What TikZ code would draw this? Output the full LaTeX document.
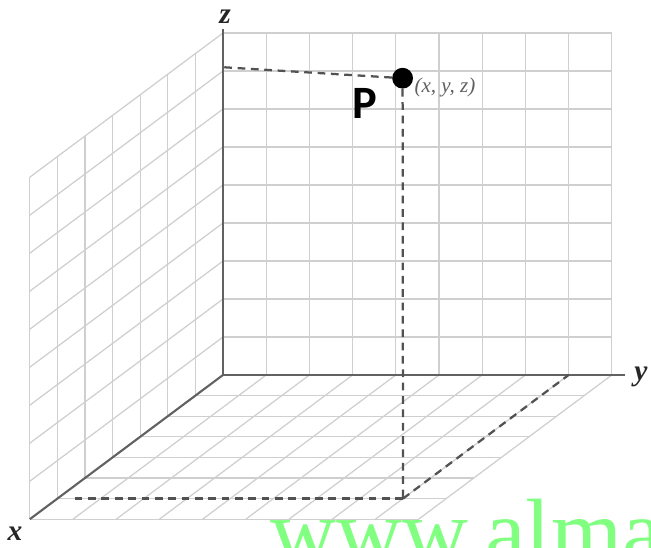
\documentclass[tikz,border=0pt]{standalone}
\usepackage{fontspec}
\setmainfont{Liberation Serif}
\newfontfamily\pointfont{Carlito}
\usetikzlibrary{positioning}
\definecolor{markgreen}{RGB}{128,255,128}

\begin{document}
\begin{tikzpicture}[
    x={(-0.69cm,-0.515cm)}, y={(1.08cm,0cm)}, z={(0cm,0.95cm)},
    every node/.style={inner sep=0pt},
    gridline/.style={line width=0.9pt, draw=black!19},
    axisline/.style={line width=1.5pt, draw=black!62},
    guide/.style={line width=1.6pt, draw=black!68, dash pattern=on 5.5pt off 4pt},
    axislabel/.style={font=\bfseries\itshape\fontsize{21}{21}\selectfont, text=black!85},
    pointdot/.style={circle, fill=black, minimum size=0.52cm}
]
    \useasboundingbox (-5.575cm,-4.3cm) rectangle (10.7cm,9.375cm);
    \clip (-5.575cm,-4.3cm) rectangle (10.7cm,9.375cm);

    % Back wall (yz plane)
    \foreach \j in {1,...,9} \draw[gridline] (0,\j,0) -- (0,\j,9);
    \foreach \k in {1,...,9} \draw[gridline] (0,0,\k) -- (0,9,\k);

    % Left wall (xz plane)
    \foreach \i in {1,...,7} \draw[gridline] (\i,0,0) -- (\i,0,9);
    \foreach \k in {1,...,9} \draw[gridline] (0,0,\k) -- (7,0,\k);

    % Floor (xy plane)
    \foreach \i in {1,...,7} \draw[gridline] (\i,0,0) -- (\i,9,0);
    \foreach \j in {1,...,9} \draw[gridline] (0,\j,0) -- (7,\j,0);

    % Axes
    \coordinate (O) at (0,0,0);
    \coordinate (xend) at (7,0,0);
    \coordinate (yend) at (0,9.3,0);
    \coordinate (zend) at (0,0,9.1);
    \draw[axisline] (O) -- (xend);
    \draw[axisline] (O) -- (yend);
    \draw[axisline] (O) -- (zend);

    % Axis labels
    \node (xlab) [axislabel] at (-5.2cm,-3.975cm) {x};
    \node (ylab) [axislabel] at (10.45cm,-0.05cm) {y};
    \node (zlab) [axislabel] at (0.05cm,8.96cm) {z};

    % Point P and its projections
    \node (P) [pointdot] at (4.49cm,7.42cm) {};
    \coordinate (F) at (6,8,0);
    \coordinate (Fx) at (6,0,0);
    \coordinate (Fy) at (0,8,0);
    \coordinate (Pz) at (0,0,8.1);
    \draw[guide] (P) -- (F);
    \draw[guide] (P) -- (Pz);
    \draw[guide, shorten >=0.33cm] (F) -- (Fx);
    \draw[guide] (F) -- (Fy);

    % Labels of P
    \node (plab) [font=\pointfont\bfseries\fontsize{33}{33}\selectfont] at (3.55cm,6.8cm) {P};
    \node (pcoord) [font=\itshape\fontsize{15}{15}\selectfont, text=black!62] at (5.55cm,7.2cm) {(x, y, z)};

    % Watermark
    \node (mark) [anchor=base west, text=markgreen, font=\fontsize{65}{65}\selectfont] at (1.175cm,-4.68cm) {www.alma};
\end{tikzpicture}
\end{document}
